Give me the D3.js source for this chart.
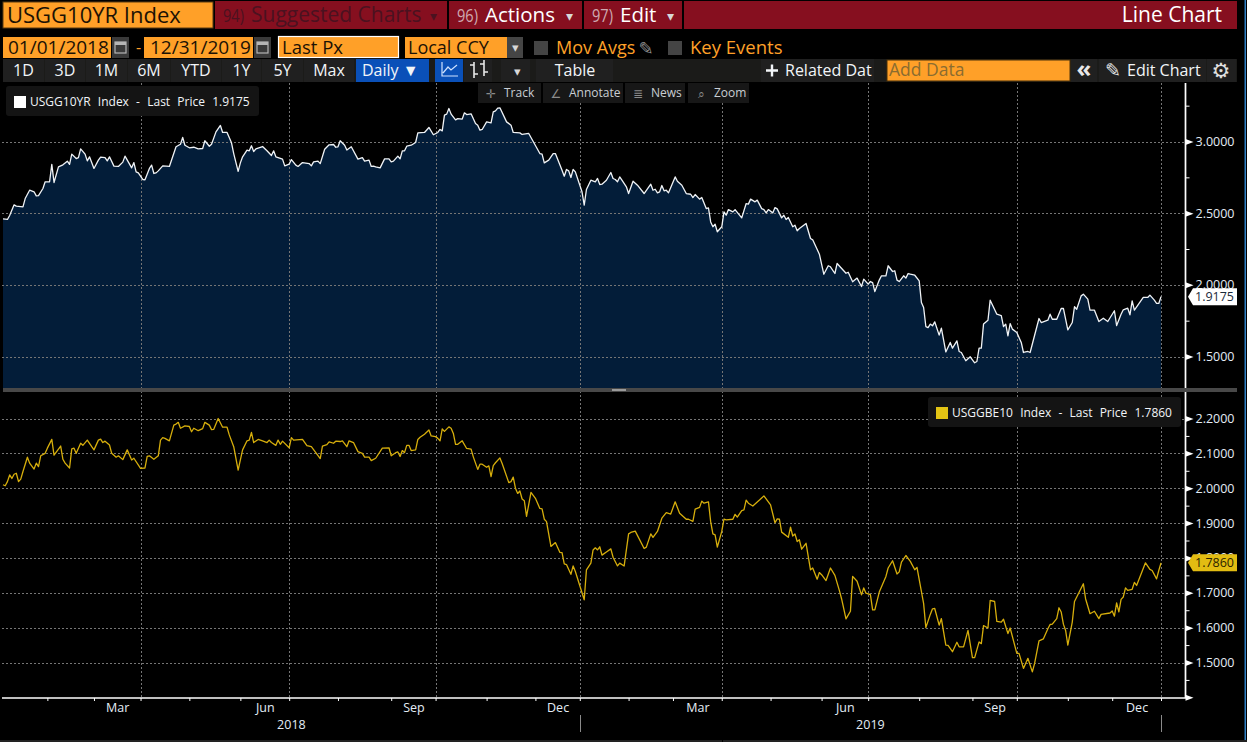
<!DOCTYPE html>
<html>
<head>
<meta charset="utf-8">
<script src="https://cdn.jsdelivr.net/npm/d3@7"></script>
<style>
  html, body { margin: 0; padding: 0; background: #000; overflow: hidden; }
  svg { display: block; }
  text { font-family: "Open Sans", sans-serif; }
</style>
</head>
<body>
<svg id="chart" width="1247" height="742"></svg>
<script>
// sessions = trading day number counted from the start of the chart
const tenYearSessions = [
  0,2,3,5,6,9,10,12,14,15,16,18,19,21,22,23,25,27,29,30,31,33,34,35,37,38,39,41,43,44,
  46,47,48,50,52,54,55,58,59,60,61,63,64,66,67,68,69,70,72,75,78,80,81,82,84,86,88,90,91,93,
  94,96,98,99,101,103,104,106,107,108,110,111,112,113,114,117,119,121,122,123,126,127,129,130,132,133,135,138,139,140,
  142,143,145,147,149,150,151,152,154,155,157,160,162,163,165,166,167,168,170,172,174,175,176,178,179,180,181,182,184,186,
  187,190,192,194,196,197,198,199,200,201,202,204,205,207,208,209,211,213,214,215,216,218,220,221,222,223,224,227,229,230,
  233,234,237,238,242,243,244,246,248,249,252,253,254,255,256,257,258,261,262,263,265,267,268,269,270,272,274,275,276,277,
  278,279,281,282,284,286,289,292,293,294,295,296,297,298,299,300,303,304,306,308,310,311,312,314,315,317,318,319,320,321,
  322,324,325,326,327,329,330,333,335,336,337,339,340,342,343,344,345,347,348,349,351,352,353,354,356,357,358,359,362,364,
  365,368,370,372,373,375,376,380,381,383,385,387,388,390,391,392,393,395,396,398,399,401,402,403,404,406,407,408,409,411,
  413,414,415,416,417,418,419,420,422,423,425,427,428,430,431,432,434,436,438,439,440,441,442,444,445,448,450,451,452,453,
  454,455,457,459,460,462,463,467,468,471,472,473,475,477,478,480,482,483,484,486,487,489,490,492,494,496,498,501,502,504,
  505,507,508,509,510,514,516,517,519,520,521,522
];
const tenYearValues = [
  2.460,2.456,2.484,2.558,2.549,2.544,2.602,2.660,2.649,2.621,2.623,2.672,2.719,2.719,2.840,2.714,2.823,2.837,2.863,2.840,2.912,2.881,2.888,2.949,2.912,2.865,2.893,2.812,2.870,2.891,
  2.888,2.865,2.893,2.828,2.826,2.856,2.898,2.816,2.853,2.788,2.781,2.735,2.733,2.812,2.835,2.777,2.781,2.795,2.830,2.826,2.963,2.981,3.028,2.974,2.956,2.960,2.949,2.951,3.005,2.967,
  2.981,3.067,3.112,3.063,3.063,2.991,2.916,2.791,2.851,2.893,2.940,2.935,2.970,2.930,2.949,2.965,2.935,2.902,2.935,2.893,2.877,2.830,2.842,2.874,2.835,2.826,2.853,2.846,2.830,2.858,
  2.863,2.846,2.946,2.977,2.979,2.960,2.963,3.005,2.974,2.940,2.963,2.877,2.888,2.863,2.870,2.826,2.828,2.823,2.816,2.879,2.879,2.858,2.863,2.898,2.879,2.935,2.935,2.967,2.974,2.993,
  3.060,3.063,3.098,3.047,3.063,3.084,3.074,3.184,3.191,3.230,3.191,3.151,3.160,3.156,3.200,3.188,3.193,3.126,3.114,3.079,3.084,3.137,3.130,3.207,3.214,3.233,3.235,3.137,3.114,3.063,
  3.060,3.049,3.056,3.028,2.916,2.912,2.851,2.870,2.916,2.916,2.800,2.758,2.805,2.795,2.749,2.805,2.788,2.649,2.556,2.665,2.730,2.719,2.742,2.700,2.702,2.730,2.784,2.742,2.735,2.719,
  2.753,2.730,2.684,2.637,2.723,2.695,2.637,2.702,2.660,2.667,2.642,2.649,2.693,2.656,2.660,2.642,2.753,2.723,2.695,2.637,2.632,2.609,2.630,2.598,2.609,2.532,2.537,2.439,2.405,2.423,
  2.370,2.405,2.509,2.486,2.525,2.509,2.525,2.467,2.567,2.563,2.598,2.579,2.591,2.532,2.525,2.502,2.525,2.502,2.539,2.530,2.467,2.486,2.456,2.470,2.405,2.416,2.377,2.393,2.428,2.323,
  2.314,2.214,2.074,2.133,2.126,2.079,2.149,2.081,2.088,2.021,2.047,1.988,2.040,2.005,2.023,2.016,1.953,2.033,2.063,2.063,2.133,2.093,2.098,2.033,2.023,2.063,2.047,2.079,2.074,2.067,
  2.028,1.877,1.842,1.709,1.702,1.726,1.714,1.742,1.649,1.698,1.532,1.598,1.558,1.609,1.535,1.528,1.470,1.498,1.456,1.465,1.558,1.558,1.726,1.753,1.893,1.795,1.786,1.709,1.726,1.644,
  1.730,1.691,1.667,1.598,1.528,1.535,1.528,1.765,1.737,1.753,1.795,1.760,1.760,1.835,1.835,1.686,1.737,1.847,1.830,1.923,1.935,1.900,1.823,1.823,1.744,1.767,1.744,1.819,1.716,1.795,
  1.826,1.837,1.791,1.888,1.823,1.912,1.912,1.928,1.893,1.870,1.870,1.9175
];

const breakevenSessions = [
  0,1,2,3,4,5,6,7,8,9,11,12,14,15,16,17,19,20,22,23,26,27,28,30,31,32,33,35,36,38,
  40,41,43,44,45,46,48,49,51,52,54,56,58,59,62,64,65,66,68,70,71,72,73,75,77,78,79,80,82,84,
  85,86,88,90,91,93,94,95,97,99,101,102,104,106,107,108,110,111,112,113,115,117,119,120,121,123,124,125,126,129,
  130,131,135,137,139,141,143,144,146,147,149,150,152,153,155,156,158,160,162,163,165,166,168,171,174,175,177,178,179,180,
  181,182,183,184,186,187,188,190,192,193,195,196,197,198,199,201,202,203,204,205,207,209,211,212,214,215,216,218,219,220,
  221,222,224,225,228,229,230,231,232,233,234,235,236,238,240,242,243,244,245,247,249,251,252,253,254,256,257,258,262,263,
  265,266,267,268,269,270,272,274,275,277,278,280,282,283,285,289,290,292,293,295,297,299,301,303,305,308,309,311,312,314,
  315,316,318,319,320,321,322,324,325,326,329,330,331,333,334,335,336,338,341,343,346,348,349,350,351,354,355,356,357,358,
  359,360,362,364,365,367,368,369,371,373,375,377,378,380,382,383,385,387,388,389,391,392,393,395,398,399,401,403,404,405,
  407,409,411,412,415,416,418,419,420,422,423,425,426,428,430,431,433,435,437,438,440,441,442,444,445,447,448,450,451,453,
  454,457,458,460,462,464,465,467,469,471,472,473,475,476,477,478,479,480,482,483,487,488,490,492,494,495,499,500,501,502,
  503,504,505,506,507,509,510,511,515,517,518,520,521,522
];
const breakevenValues = [
  2.010,2.007,2.019,2.038,2.028,2.040,2.043,2.019,2.026,2.048,2.089,2.072,2.055,2.072,2.062,2.093,2.100,2.115,2.140,2.095,2.121,2.083,2.072,2.058,2.113,2.115,2.100,2.129,2.123,2.138,
  2.119,2.110,2.138,2.141,2.131,2.135,2.124,2.100,2.089,2.093,2.082,2.110,2.081,2.086,2.057,2.058,2.091,2.093,2.083,2.093,2.138,2.145,2.143,2.136,2.181,2.184,2.189,2.172,2.179,2.177,
  2.162,2.172,2.165,2.171,2.189,2.181,2.168,2.169,2.200,2.175,2.175,2.153,2.119,2.052,2.081,2.110,2.136,2.138,2.160,2.131,2.140,2.136,2.131,2.138,2.131,2.123,2.138,2.126,2.135,2.116,
  2.145,2.138,2.140,2.122,2.119,2.102,2.085,2.121,2.125,2.133,2.129,2.135,2.134,2.136,2.119,2.136,2.131,2.105,2.100,2.089,2.089,2.079,2.086,2.115,2.116,2.093,2.102,2.104,2.091,2.108,
  2.102,2.123,2.123,2.108,2.110,2.140,2.146,2.155,2.167,2.150,2.148,2.143,2.136,2.170,2.163,2.176,2.172,2.157,2.126,2.126,2.136,2.114,2.112,2.090,2.054,2.069,2.069,2.060,2.064,2.033,
  2.065,2.073,2.087,2.071,2.016,2.019,2.032,2.000,1.985,1.992,1.969,1.964,1.919,1.988,1.971,1.942,1.941,1.911,1.904,1.833,1.844,1.816,1.815,1.783,1.781,1.753,1.777,1.761,1.680,1.766,
  1.785,1.823,1.829,1.823,1.832,1.808,1.817,1.826,1.802,1.777,1.785,1.777,1.869,1.873,1.877,1.827,1.831,1.869,1.859,1.876,1.914,1.930,1.926,1.961,1.928,1.911,1.911,1.905,1.940,1.945,
  1.963,1.957,1.961,1.904,1.869,1.866,1.831,1.876,1.911,1.909,1.911,1.925,1.917,1.936,1.938,1.966,1.957,1.949,1.966,1.978,1.952,1.901,1.912,1.911,1.874,1.859,1.888,1.863,1.869,1.847,
  1.852,1.825,1.842,1.766,1.771,1.739,1.758,1.752,1.735,1.771,1.750,1.707,1.683,1.625,1.647,1.747,1.733,1.694,1.714,1.699,1.695,1.651,1.651,1.702,1.747,1.771,1.792,1.754,1.760,1.788,
  1.807,1.790,1.766,1.773,1.669,1.600,1.638,1.654,1.655,1.607,1.626,1.550,1.549,1.531,1.558,1.545,1.545,1.592,1.514,1.514,1.559,1.554,1.606,1.599,1.678,1.675,1.618,1.616,1.624,1.583,
  1.599,1.526,1.526,1.483,1.512,1.473,1.497,1.562,1.568,1.597,1.609,1.610,1.626,1.657,1.645,1.610,1.592,1.550,1.616,1.675,1.726,1.683,1.640,1.647,1.626,1.638,1.642,1.648,1.633,1.671,
  1.645,1.681,1.688,1.714,1.707,1.710,1.730,1.721,1.786,1.767,1.764,1.740,1.764,1.786
];

// first session of each month, Feb 2018 to Dec 2019, then the end of the chart
const monthStarts = [20,41,62,84,107,129,151,175,195,218,240,260,282,302,324,346,369,390,413,437,457,480,500,522];
const quarterStarts = [62,129,195,260,324,390,457,522];
const monthNames = ['Mar', 'Jun', 'Sep', 'Dec', 'Mar', 'Jun', 'Sep', 'Dec'];
const monthNameFrom = [41, 107, 175, 240, 302, 369, 437, 500];
const monthNameTo = [62, 129, 195, 260, 324, 390, 457, 522];
const yearNames = ['2018', '2019'];
const yearFrom = [0, 260];
const yearTo = [260, 522];
const yearBreaks = [260, 522];

const topMajorTicks = [1.5, 2, 2.5, 3];
const topMinorTicks = [1.75, 2.25, 2.75, 3.25];
const bottomMajorTicks = [1.4, 1.5, 1.6, 1.7, 1.8, 1.9, 2.0, 2.1, 2.2];
const bottomMinorTicks = [1.45, 1.55, 1.65, 1.75, 1.85, 1.95, 2.05, 2.15];
const lastTenYear = 1.9175;
const lastBreakeven = 1.7860;

const ORANGE = '#ffa028', RED = '#860f1f', BTN = '#202020', WHITE = '#f2f5f8', AXIS_TXT = '#e3edf6'
const svg = d3.select('#chart')

const x = d3.scaleLinear().domain([0, 522]).range([3, 1161])
const yTop = d3.scaleLinear().domain([1.5, 3]).range([356.5, 141.5])
const yBottom = d3.scaleLinear().domain([1.5, 2.2]).range([662.5, 418.5])

function box(px, py, w, h, fill) {
  return svg.append('rect').attr('x', px).attr('y', py).attr('width', w).attr('height', h).attr('fill', fill)
}
function label(str, px, py, size, color, anchor) {
  return svg.append('text').attr('x', px).attr('y', py).attr('font-size', size)
    .attr('fill', color).attr('text-anchor', anchor || 'start').text(str)
}
// the "96)" style menu numbers are narrower than the font
function menuNumber(str, px, color) {
  label(str, px, 22, 19, color).attr('textLength', 21).attr('lengthAdjust', 'spacingAndGlyphs')
}

// ---- plot ----
svg.append('path').datum(tenYearSessions)
  .attr('fill', '#031d39')
  .attr('d', d3.area().x(d => x(d)).y0(388).y1((d, i) => yTop(tenYearValues[i])))

// dotted grid goes over the area fill
const gridStyle = sel => sel.attr('stroke', '#757575').attr('stroke-width', 1).attr('stroke-dasharray', '2,2')
svg.append('g').selectAll('line').data(quarterStarts).enter().append('line')
  .attr('x1', d => Math.round(x(d)) + 0.5).attr('x2', d => Math.round(x(d)) + 0.5)
  .attr('y1', 83).attr('y2', 698).call(gridStyle)
svg.append('g').selectAll('line').data(topMajorTicks).enter().append('line')
  .attr('x1', 2).attr('x2', 1185).attr('y1', d => Math.round(yTop(d)) + 0.5).attr('y2', d => Math.round(yTop(d)) + 0.5).call(gridStyle)
svg.append('g').selectAll('line').data(bottomMajorTicks.filter(d => d > 1.4)).enter().append('line')
  .attr('x1', 2).attr('x2', 1185).attr('y1', d => Math.round(yBottom(d)) + 0.5).attr('y2', d => Math.round(yBottom(d)) + 0.5).call(gridStyle)

svg.append('path').datum(tenYearSessions)
  .attr('fill', 'none').attr('stroke', '#f0f3f6').attr('stroke-width', 1.3).attr('stroke-linejoin', 'round')
  .attr('d', d3.line().x(d => x(d)).y((d, i) => yTop(tenYearValues[i])))

svg.append('path').datum(breakevenSessions)
  .attr('fill', 'none').attr('stroke', '#d6ae0c').attr('stroke-width', 1.3).attr('stroke-linejoin', 'round')
  .attr('d', d3.line().x(d => x(d)).y((d, i) => yBottom(breakevenValues[i])))

// panel divider
box(3, 388, 1234, 4, '#484848')
box(612, 389, 14, 2, '#9a9a9a')

// ---- axes ----
function styleAxis(g, domainPath) {
  g.select('.domain').attr('stroke', '#fff').attr('stroke-width', 1.4).attr('d', domainPath)
  g.selectAll('.tick line').attr('stroke', '#fff')
  g.selectAll('.tick text').attr('fill', AXIS_TXT).attr('font-size', 12.5).attr('font-family', '"Open Sans", sans-serif')
}
function drawYAxis(scale, major, minor, domainPath, labelled) {
  svg.append('g').attr('transform', 'translate(1185.5,0)')
    .call(d3.axisRight(scale).tickValues(minor).tickSize(4).tickFormat(''))
    .call(g => styleAxis(g, domainPath))
  const g = svg.append('g').attr('transform', 'translate(1185.5,0)')
    .call(d3.axisRight(scale).tickValues(major).tickSize(0).tickPadding(10)
      .tickFormat(d => labelled(d) ? d3.format('.4f')(d) : ''))
    .call(a => styleAxis(a, domainPath))
  // the small white pointer at every labelled level
  g.selectAll('.tick').append('path').attr('d', 'M0,-3L8,0L0,3Z').attr('fill', '#fff')
}
drawYAxis(yTop, topMajorTicks, topMinorTicks, 'M0,83V388', () => true)
drawYAxis(yBottom, bottomMajorTicks, bottomMinorTicks, 'M0,392V698', d => d > 1.4)

svg.append('g').attr('transform', 'translate(0,698)')
  .call(d3.axisBottom(x).tickValues(monthStarts).tickSize(3).tickFormat(''))
  .call(g => styleAxis(g, 'M2,0H1186'))

monthNames.forEach((m, i) => label(m, x((monthNameFrom[i] + monthNameTo[i]) / 2) + 0.5, 712, 12.5, AXIS_TXT, 'middle'))
yearNames.forEach((y, i) => label(y, x((yearFrom[i] + yearTo[i]) / 2), 729, 12.5, AXIS_TXT, 'middle'))
svg.append('g').selectAll('line').data(yearBreaks).enter().append('line')
  .attr('x1', d => Math.round(x(d)) + 0.5).attr('x2', d => Math.round(x(d)) + 0.5)
  .attr('y1', 715).attr('y2', 732).attr('stroke', '#8a8a8a')

// last price tags
function lastTag(y, value, fill, color) {
  svg.append('path').attr('fill', fill)
    .attr('d', `M1188,${y}L1193,${y - 8.5}H1237V${y + 8.5}H1193Z`)
  label(d3.format('.4f')(value), 1195, y + 4.5, 12.5, color)
}
lastTag(yTop(lastTenYear), lastTenYear, '#ffffff', '#1a2a3a')
lastTag(yBottom(lastBreakeven), lastBreakeven, '#e2bc12', '#2b2400')

// legends
function legend(px, py, w, swatchX, swatch, textX, str) {
  box(px, py, w, 30, '#141414').attr('rx', 3)
  box(swatchX, py + 10, 12, 12, swatch)
  label(str, textX, py + 20, 12, WHITE).attr('word-spacing', 4.1)
}
legend(6, 86, 253, 14, '#ffffff', 30, 'USGG10YR Index - Last Price 1.9175')
legend(928, 397, 253, 936, '#e3c414', 952, 'USGGBE10 Index - Last Price 1.7860')

// hover tools over the top panel
const toolNames = ['Track', 'Annotate', 'News', 'Zoom']
const toolIcons = ['\u271B', '\u2220', '\u2263', '\u2315']
const toolLeft = [478, 543, 625, 688]
const toolWidth = [63, 80, 60, 61]
toolNames.forEach((t, i) => {
  box(toolLeft[i], 83, toolWidth[i], 20, '#171717')
  label(toolIcons[i], toolLeft[i] + 13, 98, 12, '#8c8c8c', 'middle').style('font-family', 'DejaVu Sans')
  label(t, toolLeft[i] + 26, 97, 12, '#c9ced3')
})

// ---- terminal header ----
box(3, 2, 210, 26, ORANGE).attr('stroke', '#5a3a10')
label('USGG10YR Index', 7, 23, 22, '#1c1204')
box(215, 1, 1022, 28, RED)
;[448, 583, 683].forEach(sx => box(sx - 1, 1, 2, 28, '#000'))
menuNumber('94)', 223, '#4b1220')
label('Suggested Charts', 251, 22, 21, '#4b1220')
label('\u25BE', 433, 21, 14, '#4b1220', 'middle')
menuNumber('96)', 457, '#cfa9b0')
label('Actions', 485, 22, 20.5, '#ffffff')
label('\u25BE', 569, 21, 14, '#d8d8d8', 'middle')
menuNumber('97)', 592, '#cfa9b0')
label('Edit', 620, 22, 20.5, '#ffffff')
label('\u25BE', 670, 21, 14, '#d8d8d8', 'middle')
label('Line Chart', 1222, 22, 21, '#ffffff', 'end')

// second row, dates and price selector
function calendar(cx) {
  box(cx, 37, 17, 21, '#3a3a3a')
  box(cx + 3, 42, 11, 11, 'none').attr('stroke', '#b5b5b5').attr('stroke-width', 1.2)
  box(cx + 3, 42, 11, 3, '#b5b5b5')
}
box(3, 37, 108, 21, ORANGE)
label('01/01/2018', 8, 54, 19, '#1c1204')
calendar(112)
label('-', 136, 53, 16, ORANGE)
box(144, 37, 109, 21, ORANGE)
label('12/31/2019', 150, 54, 19, '#1c1204')
calendar(254)
box(278.5, 36.5, 120, 21, ORANGE).attr('stroke', '#fff').attr('stroke-width', 1.2)
label('Last Px', 282, 54, 18.5, '#1c1204')
box(405, 37, 102, 21, ORANGE)
label('Local CCY', 408, 54, 18, '#1c1204')
box(507, 37, 16, 21, '#454545')
label('\u25BE', 515, 52, 13, '#d8d8d8', 'middle')
box(534, 41, 14, 14, '#444')
label('Mov Avgs', 556, 54, 18, ORANGE)
label('\u270E', 646, 55, 18, '#8a8a8a', 'middle').style('font-family', 'DejaVu Sans')
box(668, 41, 14, 14, '#444')
label('Key Events', 690, 54, 18.5, ORANGE)

// third row, range buttons
box(3, 59, 1234, 23, '#1b1b19')
const rangeNames = ['1D', '3D', '1M', '6M', 'YTD', '1Y', '5Y', 'Max']
const rangeLeft = [3, 45, 86, 128, 171, 222, 262, 304]
const rangeRight = [44, 85, 127, 170, 221, 261, 303, 354]
rangeNames.forEach((r, i) => {
  box(rangeLeft[i], 59, rangeRight[i] - rangeLeft[i], 23, BTN)
  label(r, (rangeLeft[i] + rangeRight[i]) / 2, 76, 16, WHITE, 'middle')
})
box(356, 59, 73, 23, '#0a50b8')
label('Daily \u25BC', 362, 76, 16, WHITE)
box(435, 59, 28, 23, '#0a50b8')
svg.append('path').attr('d', 'M442,62V76H458M443,73L448,67L451,70L457,65').attr('fill', 'none').attr('stroke', '#cfe2ff').attr('stroke-width', 1.2)
box(464, 59, 28, 23, BTN)
svg.append('path').attr('d', 'M474,62V78M484,60V76M474,65H470M474,74H478M484,64H480M484,72H488').attr('fill', 'none').attr('stroke', '#e8e8e8').attr('stroke-width', 1.6)
box(501, 59, 29, 23, BTN)
label('\u25BE', 517, 76, 13, '#d8d8d8', 'middle')
box(536, 59, 77, 23, BTN)
label('Table', 575, 76, 16, WHITE, 'middle')
box(761, 59, 113, 23, BTN)
svg.append('path').attr('d', 'M766,70.5H778M772,64.5V76.5').attr('fill', 'none').attr('stroke', WHITE).attr('stroke-width', 2.4)
label('Related Dat', 785, 76, 16, WHITE)
box(887, 60, 183, 21, ORANGE).attr('stroke', '#4a3008')
label('Add Data', 889, 76, 17.5, '#8a6c30')
box(1071, 59, 26, 23, BTN)
label('\u00AB', 1084, 77, 24, '#e8e8e8', 'middle').attr('font-weight', 700)
box(1099, 59, 107, 23, BTN)
label('\u270E', 1113, 77, 19, '#e0e0e0', 'middle').style('font-family', 'DejaVu Sans')
label('Edit Chart', 1127, 76, 16, WHITE)
box(1207, 59, 29, 23, BTN)
label('\u2699', 1221, 78, 21, '#e0e0e0', 'middle').style('font-family', 'DejaVu Sans')

// window edges
box(1244.5, 0, 1.5, 742, '#2f7fc4')
box(0, 740, 1247, 2, '#222')
box(722, 740, 1, 2, '#000')
</script>
</body>
</html>
